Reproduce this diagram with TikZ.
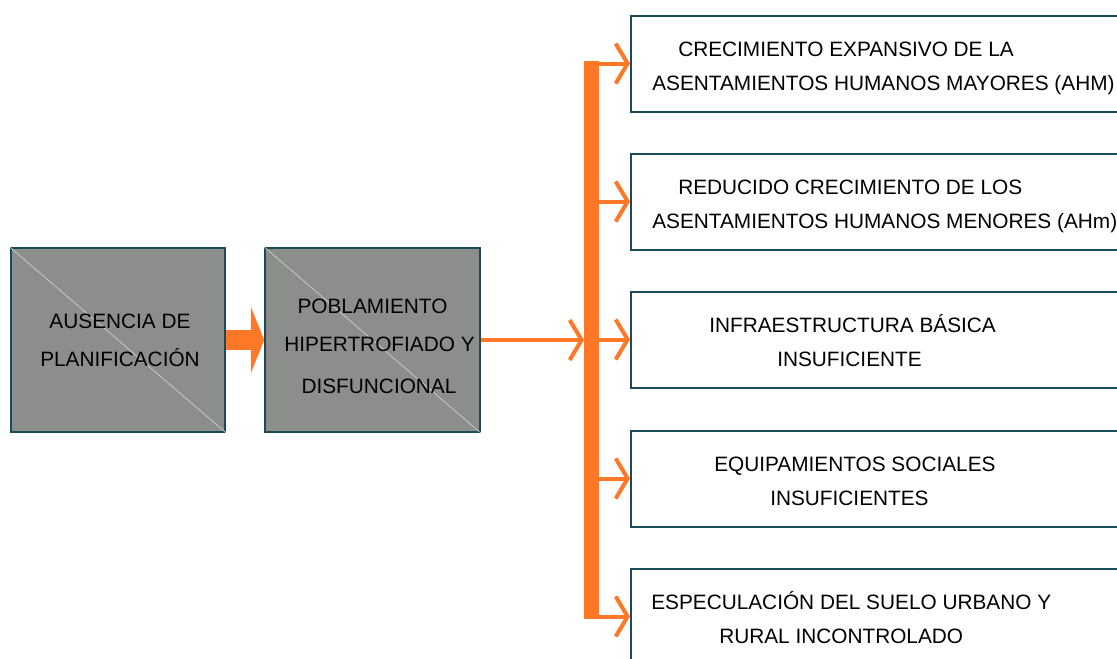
\documentclass[tikz,border=0pt]{standalone}
\usepackage{fontspec}
\setmainfont{Liberation Sans}
\usetikzlibrary{arrows.meta}

\definecolor{boxedge}{RGB}{27,74,90}
\definecolor{boxgray}{RGB}{140,142,140}
\definecolor{flow}{RGB}{255,120,40}

\tikzset{
  causebox/.style={draw=boxedge, line width=1.5pt, fill=boxgray, minimum width=161pt, minimum height=138pt, inner sep=0pt},
  effectbox/.style={draw=boxedge, line width=1.5pt, minimum width=370.5pt, minimum height=72pt, inner sep=0pt},
  boxtext/.style={inner sep=0pt, anchor=base, font=\fontsize{15.6}{18}\selectfont},
  barb/.style={draw=flow, line width=3pt, -{Straight Barb[length=9pt, width=30pt]}},
}

% two text lines inside an effect box, offsets from its west side
\newcommand{\effectlines}[5]{%
  \node[boxtext, anchor=base west] (#1-a) at ([shift={(#2,-7.5)}]#1.west) {#3};
  \node[boxtext, anchor=base west] (#1-b) at ([shift={(#4,26.5)}]#1.west) {#5};}

\begin{document}
\begin{tikzpicture}[x=0.75pt, y=-0.75pt, line cap=butt]
		\useasboundingbox (0,0) rectangle (1117,658);
		
		% causes
		\node[causebox] (ausencia) at (118,340) {};
		\node[causebox] (poblamiento) at (372.5,340) {};
		\draw[white!70!boxgray, line width=0.4pt] (ausencia.north west) -- (ausencia.south east);
		\draw[white!70!boxgray, line width=0.4pt] (poblamiento.north west) -- (poblamiento.south east);
		
		\node[boxtext] (ausencia-a) at ([shift={(2,-12)}]ausencia.center) {AUSENCIA DE};
		\node[boxtext] (ausencia-b) at ([shift={(2,26)}]ausencia.center) {PLANIFICACIÓN};
		\node[boxtext] (poblamiento-a) at ([shift={(0,-27)}]poblamiento.center) {POBLAMIENTO};
		\node[boxtext] (poblamiento-b) at ([shift={(7,11)}]poblamiento.center) {HIPERTROFIADO Y};
		\node[boxtext] (poblamiento-c) at ([shift={(6.5,53)}]poblamiento.center) {DISFUNCIONAL};
		
		% effects
		\foreach \name/\ypos in {crecimiento/63.5, reducido/201.5, infra/339.5, equip/478.5, especulacion/616.5}
			\node[effectbox] (\name) at (878,\ypos) {};
		
		\effectlines{crecimiento}{48}{CRECIMIENTO EXPANSIVO DE LA}{22}{ASENTAMIENTOS HUMANOS MAYORES (AHM)}
		\effectlines{reducido}{48}{REDUCIDO CRECIMIENTO DE LOS}{22}{ASENTAMIENTOS HUMANOS MENORES (AHm)}
		\effectlines{infra}{79}{INFRAESTRUCTURA BÁSICA}{147}{INSUFICIENTE}
		\effectlines{equip}{84}{EQUIPAMIENTOS SOCIALES}{140}{INSUFICIENTES}
		\effectlines{especulacion}{21}{ESPECULACIÓN DEL SUELO URBANO Y}{89}{RURAL INCONTROLADO}
		
		% arrows
		\draw[flow, line width=15pt, -{Triangle[length=10pt, width=49.5pt]}] (ausencia.east) -- (poblamiento.west);
		
		\coordinate (hub) at (584,340);
		\coordinate (bartop) at (591.5,61);
		\coordinate (barbottom) at (591.5,619);
		\coordinate (barright) at (598,0);
		\draw[barb] (poblamiento.east) -- (hub);
		\draw[flow, line width=11.25pt] (bartop) -- (barbottom);
		\foreach \name in {crecimiento, reducido, infra, equip, especulacion}
			\draw[barb] (\name.west -| barright) -- (\name.west);
\end{tikzpicture}
\end{document}
